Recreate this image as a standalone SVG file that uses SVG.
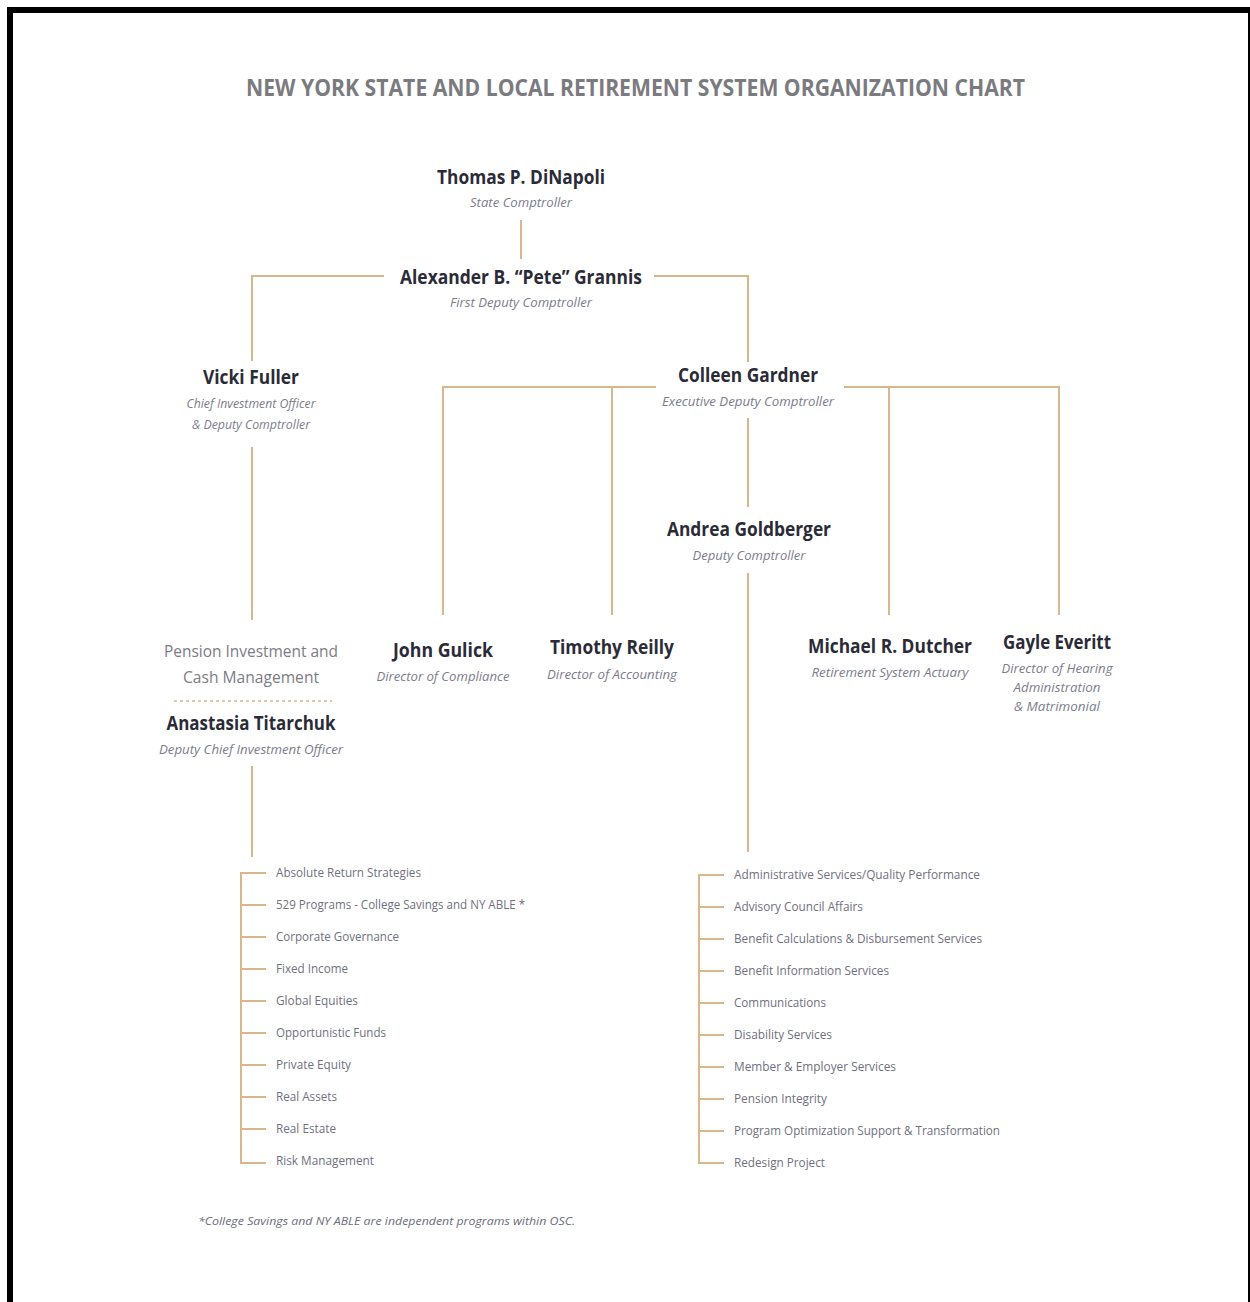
<svg xmlns="http://www.w3.org/2000/svg" width="1250" height="1302" viewBox="0 0 1250 1302">
<style>
text{font-family:"Open Sans","Liberation Sans",sans-serif}
.t{font-size:23px;font-weight:700;fill:#7b7b7f;text-anchor:middle}
.n{font-size:20px;font-weight:700;fill:#2b2b38;text-anchor:middle}
.s{font-size:13px;font-style:italic;fill:#7c7c8c;text-anchor:middle}
.u{font-size:16px;fill:#7c7c86;text-anchor:middle}
.l{font-size:12.5px;fill:#707080}
.f{font-size:11.5px;font-style:italic;fill:#6c6c7c}
.c{stroke:#d8b78c;stroke-width:2;fill:none}
</style>
<rect x="0" y="0" width="1250" height="1302" fill="#fff"/>
<g id="frame" fill="#000">
<rect x="7" y="7" width="1243" height="6"/>
<rect x="7" y="7" width="6" height="1295"/>
<rect x="1248" y="13" width="2" height="1289"/>
</g>
<text class="t" x="635.5" y="96" textLength="779" lengthAdjust="spacingAndGlyphs">NEW YORK STATE AND LOCAL RETIREMENT SYSTEM ORGANIZATION CHART</text>
<g id="connectors" class="c">
<path d="M521 220V259"/>
<path d="M384 276H252V361"/>
<path d="M654 276H748V362"/>
<path d="M252 447V620"/>
<path d="M656 387H443V615M612 387V615"/>
<path d="M844 387H1059V615M889 387V615"/>
<path d="M748 418V507"/>
<path d="M748 573V852"/>
<path d="M252 766V857"/>
<path d="M174 701H332" stroke-dasharray="3 3" stroke-width="1.5"/>
<path d="M266 873H241V1163H266M241 905H266M241 937H266M241 969H266M241 1001H266M241 1033H266M241 1065H266M241 1097H266M241 1129H266"/>
<path d="M724 875H699V1163H724M699 907H724M699 939H724M699 971H724M699 1003H724M699 1035H724M699 1067H724M699 1099H724M699 1131H724"/>
</g>
<g id="dinapoli">
<text class="n" x="521" y="184" textLength="168" lengthAdjust="spacingAndGlyphs">Thomas P. DiNapoli</text>
<text class="s" x="521" y="207" textLength="102" lengthAdjust="spacingAndGlyphs">State Comptroller</text>
</g>
<g id="grannis">
<text class="n" x="521" y="284" textLength="242" lengthAdjust="spacingAndGlyphs">Alexander B. “Pete” Grannis</text>
<text class="s" x="521" y="307" textLength="142" lengthAdjust="spacingAndGlyphs">First Deputy Comptroller</text>
</g>
<g id="fuller">
<text class="n" x="251" y="384" textLength="96" lengthAdjust="spacingAndGlyphs">Vicki Fuller</text>
<text class="s" x="251" y="408" textLength="129" lengthAdjust="spacingAndGlyphs">Chief Investment Officer</text>
<text class="s" x="251" y="429" textLength="118" lengthAdjust="spacingAndGlyphs">&amp; Deputy Comptroller</text>
</g>
<g id="gardner">
<text class="n" x="748" y="382" textLength="140" lengthAdjust="spacingAndGlyphs">Colleen Gardner</text>
<text class="s" x="748" y="406" textLength="172" lengthAdjust="spacingAndGlyphs">Executive Deputy Comptroller</text>
</g>
<g id="goldberger">
<text class="n" x="749" y="536" textLength="164" lengthAdjust="spacingAndGlyphs">Andrea Goldberger</text>
<text class="s" x="749" y="560" textLength="113" lengthAdjust="spacingAndGlyphs">Deputy Comptroller</text>
</g>
<g id="pension">
<text class="u" x="251" y="657" textLength="174" lengthAdjust="spacingAndGlyphs">Pension Investment and</text>
<text class="u" x="251" y="683" textLength="136" lengthAdjust="spacingAndGlyphs">Cash Management</text>
<text class="n" x="251" y="730" textLength="169" lengthAdjust="spacingAndGlyphs">Anastasia Titarchuk</text>
<text class="s" x="251" y="754" textLength="184" lengthAdjust="spacingAndGlyphs">Deputy Chief Investment Officer</text>
</g>
<g id="gulick">
<text class="n" x="443" y="657" textLength="100" lengthAdjust="spacingAndGlyphs">John Gulick</text>
<text class="s" x="443" y="681" textLength="133" lengthAdjust="spacingAndGlyphs">Director of Compliance</text>
</g>
<g id="reilly">
<text class="n" x="612" y="654" textLength="124" lengthAdjust="spacingAndGlyphs">Timothy Reilly</text>
<text class="s" x="612" y="679" textLength="130" lengthAdjust="spacingAndGlyphs">Director of Accounting</text>
</g>
<g id="dutcher">
<text class="n" x="890" y="653" textLength="164" lengthAdjust="spacingAndGlyphs">Michael R. Dutcher</text>
<text class="s" x="890" y="677" textLength="157" lengthAdjust="spacingAndGlyphs">Retirement System Actuary</text>
</g>
<g id="everitt">
<text class="n" x="1057" y="649" textLength="108" lengthAdjust="spacingAndGlyphs">Gayle Everitt</text>
<text class="s" x="1057" y="673" textLength="111" lengthAdjust="spacingAndGlyphs">Director of Hearing</text>
<text class="s" x="1057" y="692" textLength="87" lengthAdjust="spacingAndGlyphs">Administration</text>
<text class="s" x="1057" y="711" textLength="86" lengthAdjust="spacingAndGlyphs">&amp; Matrimonial</text>
</g>
<g id="investment-units">
<text class="l" x="276" y="877" textLength="145" lengthAdjust="spacingAndGlyphs">Absolute Return Strategies</text>
<text class="l" x="276" y="909" textLength="249" lengthAdjust="spacingAndGlyphs">529 Programs - College Savings and NY ABLE *</text>
<text class="l" x="276" y="941" textLength="123" lengthAdjust="spacingAndGlyphs">Corporate Governance</text>
<text class="l" x="276" y="973" textLength="72" lengthAdjust="spacingAndGlyphs">Fixed Income</text>
<text class="l" x="276" y="1005" textLength="82" lengthAdjust="spacingAndGlyphs">Global Equities</text>
<text class="l" x="276" y="1037" textLength="110" lengthAdjust="spacingAndGlyphs">Opportunistic Funds</text>
<text class="l" x="276" y="1069" textLength="75" lengthAdjust="spacingAndGlyphs">Private Equity</text>
<text class="l" x="276" y="1101" textLength="61" lengthAdjust="spacingAndGlyphs">Real Assets</text>
<text class="l" x="276" y="1133" textLength="60" lengthAdjust="spacingAndGlyphs">Real Estate</text>
<text class="l" x="276" y="1165" textLength="98" lengthAdjust="spacingAndGlyphs">Risk Management</text>
</g>
<g id="retirement-units">
<text class="l" x="734" y="879" textLength="246" lengthAdjust="spacingAndGlyphs">Administrative Services/Quality Performance</text>
<text class="l" x="734" y="911" textLength="129" lengthAdjust="spacingAndGlyphs">Advisory Council Affairs</text>
<text class="l" x="734" y="943" textLength="248" lengthAdjust="spacingAndGlyphs">Benefit Calculations &amp; Disbursement Services</text>
<text class="l" x="734" y="975" textLength="155" lengthAdjust="spacingAndGlyphs">Benefit Information Services</text>
<text class="l" x="734" y="1007" textLength="92" lengthAdjust="spacingAndGlyphs">Communications</text>
<text class="l" x="734" y="1039" textLength="98" lengthAdjust="spacingAndGlyphs">Disability Services</text>
<text class="l" x="734" y="1071" textLength="162" lengthAdjust="spacingAndGlyphs">Member &amp; Employer Services</text>
<text class="l" x="734" y="1103" textLength="93" lengthAdjust="spacingAndGlyphs">Pension Integrity</text>
<text class="l" x="734" y="1135" textLength="266" lengthAdjust="spacingAndGlyphs">Program Optimization Support &amp; Transformation</text>
<text class="l" x="734" y="1167" textLength="91" lengthAdjust="spacingAndGlyphs">Redesign Project</text>
</g>
<text class="f" x="198" y="1225" textLength="377" lengthAdjust="spacingAndGlyphs">*College Savings and NY ABLE are independent programs within OSC.</text>
</svg>
